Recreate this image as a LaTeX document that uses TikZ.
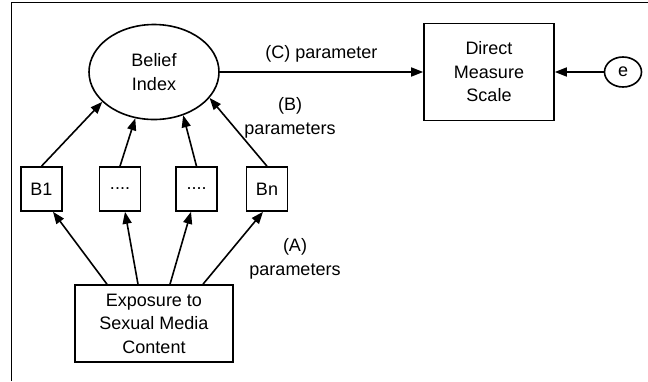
\documentclass[tikz,border=0pt]{standalone}
\usepackage{fontspec}
\setmainfont{Liberation Sans}
\usetikzlibrary{shapes.geometric, calc, positioning}
\usetikzlibrary{arrows.meta}
\tikzset{>={Triangle[length=6pt,width=4.5pt]}}
\tikzset{
  lbl/.style={align=center, font=\fontsize{9}{11.75}\selectfont},
  bbox/.style={lbl, draw, thick, minimum width=20.5pt, minimum height=22pt, inner sep=0pt},
  oval/.style={lbl, draw, thick, ellipse, inner sep=0pt},
}

\begin{document}
\begin{tikzpicture}[x=0.5pt, y=-0.5pt]
			\useasboundingbox (0,0) rectangle (648,381);
			\draw [line width=0.5pt] (11,381) -- (11,2) -- (648,2);
			\node [oval, minimum width=65pt, minimum height=47.5pt] (belief) at (154,72) {Belief\\Index};
			\node [lbl, draw, thick, minimum width=65pt, minimum height=48.5pt] (dms) at (489,72) {Direct\\Measure\\Scale};
			\node [oval, minimum width=18.5pt, minimum height=15pt] (err) at (623,72) {e};
			\node [bbox] (b1) at (41.5,189) {B1};
			\node [bbox] (b2) at (120,189) {....};
			\node [bbox] (b3) at (196.5,189) {....};
			\node [bbox] (bn) at (267,189) {Bn};
			\node [lbl, draw, thick, minimum width=79pt, minimum height=38.5pt] (expo) at (154,323.5) {Exposure to\\Sexual Media\\Content};
			\draw [thick,->] (belief.east) -- (dms.west) node [lbl, midway, above=1pt] {(C) parameter};
			\draw [thick,->] (err.west) -- (dms.east);
			\draw [thick,->] (b1.north) -- (belief.210);
			\draw [thick,->] (b2.north) -- (belief.248);
			\draw [thick,->] (b3.north) -- (belief.304);
			\draw [thick,->] (bn.north) -- (belief.335);
			\draw [thick,->] ([xshift=-23.5pt]expo.north) -- ([xshift=5.75pt]b1.south);
			\draw [thick,->] ([xshift=-8pt]expo.north) -- ([xshift=2.5pt]b2.south);
			\draw [thick,->] ([xshift=8pt]expo.north) -- ([xshift=-2.75pt]b3.south);
			\draw [thick,->] ([xshift=24.5pt]expo.north) -- ([xshift=-2pt]bn.south);
			\node [lbl] (labB) at (290,118) {(B)\\parameters};
			\node [lbl] (labA) at (295,259) {(A)\\parameters};
		\end{tikzpicture}
\end{document}
